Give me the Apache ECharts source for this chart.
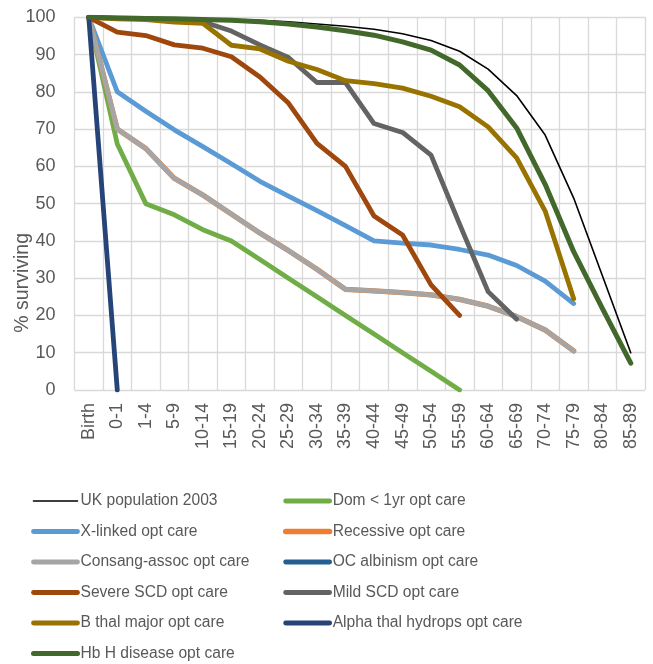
<!DOCTYPE html>
<html>
<head>
<meta charset="utf-8">
<script src="https://cdn.jsdelivr.net/npm/echarts@6/dist/echarts.min.js"></script>
<style>
  html, body { margin: 0; padding: 0; background: #fff; }
  #chart { width: 653px; height: 664px; }
</style>
</head>
<body>
<div id="chart"></div>
<script>
// Age bands on the category axis
const ageBands = ['Birth', '0-1', '1-4', '5-9', '10-14', '15-19', '20-24', '25-29', '30-34', '35-39',
  '40-44', '45-49', '50-54', '55-59', '60-64', '65-69', '70-74', '75-79', '80-84', '85-89'];

// Y axis ticks (% surviving)
const yTicks = [0, 10, 20, 30, 40, 50, 60, 70, 80, 90, 100];

// Survival (%) by age band for each group
const ukPopulation2003 = [100, 99.8, 99.7, 99.7, 99.6, 99.4, 99.2, 98.8, 98.2, 97.6, 96.8, 95.6, 93.8, 90.9, 86.1, 79.0, 68.4, 51.5, 30.8, 10.0];
const domUnder1yr = [100, 66, 50, 47, 43, 40, 35, 30, 25, 20, 15, 10, 5, 0];
const xLinked = [100, 80, 74.8, 69.8, 65.3, 60.7, 56, 52, 48.1, 44.1, 40, 39.4, 38.9, 37.7, 36.2, 33.4, 29.2, 23.2];
const recessive = [100, 70, 64.8, 56.8, 52.3, 47.2, 42.1, 37.4, 32.4, 27, 26.6, 26.1, 25.5, 24.3, 22.5, 19.7, 16.1, 10.5];
const consangAssoc = [100, 70, 64.8, 56.8, 52.3, 47.2, 42.1, 37.4, 32.4, 27, 26.6, 26.1, 25.5, 24.3, 22.5, 19.7, 16.1, 10.5];
const ocAlbinism = [];
const severeSCD = [100, 96, 95.1, 92.6, 91.7, 89.4, 84, 77, 66.2, 60, 46.7, 41.6, 28.2, 20];
const mildSCD = [100, 99.8, 99.7, 99.3, 98.8, 96.3, 92.6, 89.2, 82.5, 82.5, 71.5, 69.1, 63, 44.5, 26.4, 19];
const bThalMajor = [100, 99.6, 99.4, 98.7, 98.4, 92.5, 91.5, 88.2, 86, 83, 82.2, 81, 78.8, 76, 70.6, 62.3, 48, 24.5];
const alphaThalHydrops = [100, 0];
const hbHDisease = [100, 99.8, 99.7, 99.6, 99.4, 99.2, 98.8, 98.2, 97.4, 96.4, 95.2, 93.4, 91.2, 87.2, 80.3, 70.3, 55.2, 37.1, 22.0, 7.2];

const seriesDefs = [
  { name: 'UK population 2003', data: ukPopulation2003, color: '#000000', width: 1.6 },
  { name: 'Dom < 1yr opt care', data: domUnder1yr, color: '#70AD47', width: 4.8 },
  { name: 'X-linked opt care', data: xLinked, color: '#5B9BD5', width: 4.8 },
  { name: 'Recessive opt care', data: recessive, color: '#ED7D31', width: 5.3 },
  { name: 'Consang-assoc opt care', data: consangAssoc, color: '#A5A5A5', width: 4.8 },
  { name: 'OC albinism opt care', data: ocAlbinism, color: '#255E91', width: 4.8 },
  { name: 'Severe SCD opt care', data: severeSCD, color: '#9E480E', width: 4.8 },
  { name: 'Mild SCD opt care', data: mildSCD, color: '#636363', width: 4.8 },
  { name: 'B thal major opt care', data: bThalMajor, color: '#997300', width: 4.8 },
  { name: 'Alpha thal hydrops opt care', data: alphaThalHydrops, color: '#264478', width: 4.8 },
  { name: 'Hb H disease opt care', data: hbHDisease, color: '#43682B', width: 5 }
];

const font = "'Liberation Sans', Arial, sans-serif";
const textColor = '#595959';
const gridColor = '#D9D9D9';

const leftLegend = ['UK population 2003', 'X-linked opt care', 'Consang-assoc opt care',
  'Severe SCD opt care', 'B thal major opt care', 'Hb H disease opt care'];
const rightLegend = ['Dom < 1yr opt care', 'Recessive opt care', 'OC albinism opt care',
  'Mild SCD opt care', 'Alpha thal hydrops opt care'];

// Legend entries carry the same stroke width as their series
function legendItems(names) {
  return names.map(n => {
    const s = seriesDefs.find(d => d.name === n);
    return { name: n, lineStyle: { width: s.width, cap: 'round', color: s.color } };
  });
}

const legendCommon = {
  orient: 'vertical',
  top: 493,
  height: 220,
  padding: 0,
  itemWidth: 44,
  itemHeight: 16,
  itemGap: 14.5,
  selectedMode: false,
  itemStyle: { color: 'rgba(0,0,0,0)', opacity: 0, borderWidth: 0 },
  textStyle: { fontFamily: font, fontSize: 15.6, color: textColor, padding: [0, 0, 0, -2] }
};

const chart = echarts.init(document.getElementById('chart'), null, { renderer: 'canvas' });

chart.setOption({
  animation: false,
  backgroundColor: '#ffffff',
  grid: { left: 74.5, right: 8, top: 17.3, bottom: 274, containLabel: false },
  legend: [
    Object.assign({ left: 31, data: legendItems(leftLegend) }, legendCommon),
    Object.assign({ left: 283, data: legendItems(rightLegend) }, legendCommon)
  ],
  graphic: [{
    type: 'text',
    left: 13,
    top: 233,
    rotation: Math.PI / 2,
    style: { text: '% surviving', font: '19.5px ' + font, fill: textColor }
  }],
  xAxis: {
    type: 'category',
    data: ageBands,
    boundaryGap: true,
    axisLine: { show: false },
    axisTick: { show: false },
    splitLine: { show: true, lineStyle: { color: gridColor, width: 1.3 } },
    axisLabel: { interval: 0, rotate: 90, margin: 13, fontFamily: font, fontSize: 18, color: textColor }
  },
  yAxis: {
    type: 'value',
    min: yTicks[0],
    max: yTicks[yTicks.length - 1],
    interval: yTicks[1] - yTicks[0],
    axisLine: { show: false },
    axisTick: { show: false },
    splitLine: { show: true, lineStyle: { color: gridColor, width: 1.3 } },
    axisLabel: { margin: 19, fontFamily: font, fontSize: 18, color: textColor }
  },
  series: seriesDefs.map(s => ({
    name: s.name,
    type: 'line',
    data: s.data,
    symbol: 'none',
    smooth: false,
    color: s.color,
    lineStyle: { color: s.color, width: s.width, cap: 'round', join: 'round' }
  }))
});
</script>
</body>
</html>
